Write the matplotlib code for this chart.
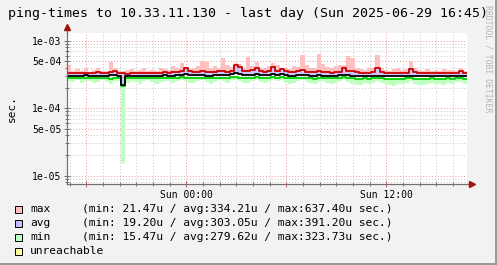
import numpy as np
import matplotlib
matplotlib.use("Agg")
import matplotlib.pyplot as plt
from matplotlib.patches import Rectangle

# hours relative to Sun 00:00, one sample every 15 minutes
t_start = -7.15
step = 0.25

# microseconds
max_peak = [430, 360, 380, 350, 400, 345, 370, 390, 350, 360,
            480, 400, 360, 350, 370, 380, 355, 365, 390, 360,
            370, 355, 400, 380, 365, 420, 390, 470, 410, 380,
            400, 420, 500, 490, 390, 420, 400, 560, 430, 410,
            470, 450, 400, 570, 420, 480, 400, 390, 420, 460,
            430, 400, 390, 380, 420, 410, 610, 430, 400, 390,
            637, 450, 410, 400, 420, 430, 440, 590, 560, 400,
            380, 370, 390, 400, 610, 390, 370, 360, 380, 400,
            370, 380, 500, 400, 370, 360, 380, 360, 370, 350,
            380, 365, 370, 355, 390, 360]
max_line = [335, 330, 332, 328, 335, 330, 333, 338, 330, 332,
            340, 352, 335, 330, 325, 330, 334, 328, 332, 330,
            336, 330, 334, 340, 332, 338, 345, 360, 392, 350,
            340, 345, 350, 342, 338, 348, 355, 352, 345, 360,
            432, 412, 360, 350, 365, 400, 355, 345, 350, 412,
            360, 382, 350, 345, 340, 350, 365, 345, 342, 338,
            352, 345, 340, 335, 338, 345, 392, 360, 350, 340,
            335, 332, 330, 340, 392, 345, 335, 330, 328, 332,
            330, 335, 382, 340, 332, 330, 328, 335, 330, 332,
            328, 333, 330, 335, 350, 332]
avg_line = [305, 302, 304, 300, 306, 303, 301, 305, 302, 304,
            308, 312, 300, 220, 298, 302, 305, 300, 303, 301,
            304, 300, 302, 306, 303, 305, 308, 312, 318, 310,
            306, 310, 312, 305, 304, 308, 314, 312, 306, 318,
            330, 322, 310, 308, 315, 320, 310, 306, 309, 318,
            312, 316, 308, 305, 303, 308, 312, 306, 304, 302,
            308, 305, 303, 300, 302, 306, 310, 308, 304, 300,
            298, 300, 297, 302, 305, 300, 298, 296, 295, 299,
            297, 300, 304, 298, 296, 295, 297, 299, 296, 298,
            295, 298, 296, 300, 302, 297]
min_line = [282, 280, 283, 278, 281, 279, 276, 280, 282, 278,
            275, 280, 282, 215, 278, 282, 279, 276, 280, 283,
            280, 277, 279, 282, 280, 278, 283, 285, 282, 280,
            278, 281, 283, 279, 277, 280, 284, 282, 278, 285,
            288, 284, 280, 278, 282, 286, 281, 279, 283, 287,
            284, 286, 280, 276, 278, 281, 284, 279, 277, 275,
            280, 282, 278, 276, 279, 283, 286, 281, 277, 274,
            272, 276, 273, 278, 282, 277, 274, 272, 271, 275,
            273, 277, 280, 275, 272, 271, 274, 276, 273, 275,
            272, 276, 274, 278, 280, 275]
min_dip = [250, 245, 260, 240, 255, 250, 235, 248, 258, 242,
           230, 250, 255, 15.5, 240, 255, 245, 225, 250, 258,
           248, 232, 245, 256, 250, 238, 255, 260, 250, 240,
           235, 250, 258, 242, 230, 248, 260, 252, 238, 262,
           265, 255, 240, 235, 250, 262, 248, 238, 255, 264,
           256, 260, 240, 228, 236, 250, 258, 242, 234, 225,
           245, 252, 238, 230, 240, 255, 262, 248, 232, 222,
           218, 235, 225, 240, 252, 236, 228, 220, 215, 232,
           226, 240, 250, 232, 222, 218, 230, 238, 225, 232,
           220, 236, 228, 242, 248, 230]

title = "ping-times to 10.33.11.130 - last day (Sun 2025-06-29 16:45)"
legend_names = ["max", "avg", "min", "unreachable"]
legend_stats = ["(min: 21.47u / avg:334.21u / max:637.40u sec.)",
                "(min: 19.20u / avg:303.05u / max:391.20u sec.)",
                "(min: 15.47u / avg:279.62u / max:323.73u sec.)",
                ""]
legend_colors = ["#ffbfbf", "#bfbfff", "#bfffbf", "#ffff99"]
y_ticks = [1e-5, 5e-5, 1e-4, 5e-4, 1e-3]
y_labels = ["1e-05", "5e-05", "1e-04", "5e-04", "1e-03"]
x_major = [-6, 0, 6, 12]
x_labels = ["", "Sun 00:00", "", "Sun 12:00"]

plt.rcParams["font.family"] = ["DejaVu Sans Mono"]

def steps(vals):
    v = np.array(vals, dtype=float) * 1e-6
    return np.append(v, v[-1])

n = len(max_line)
t = t_start + step * np.arange(n + 1)
mx, av, mn = steps(max_line), steps(avg_line), steps(min_line)
pk, dp = steps(max_peak), steps(min_dip)

W, H = 497, 265
fig = plt.figure(figsize=(W / 100, H / 100), dpi=100, facecolor="#f2f2f2")
ax = fig.add_axes([67 / W, 1 - 184 / H, 400 / W, 151 / H])
ax.set_facecolor("white")

ax.fill_between(t, mx, pk, step="post", color="#ffbfbf", lw=0)
ax.fill_between(t, av, mx, step="post", color="#c8c8ff", lw=0)
ax.fill_between(t, dp, mn, step="post", color="#bfffbf", lw=0)
ax.plot(t, mx, drawstyle="steps-post", color="#cc0000", lw=1.3)
ax.plot(t, mn, drawstyle="steps-post", color="#00cc00", lw=1.3)
ax.plot(t, av, drawstyle="steps-post", color="black", lw=1.3)

ax.set_yscale("log")
ax.set_yticks(y_ticks)
ax.set_yticklabels(y_labels)
minor_y = [m * 10.0 ** e for e in (-6, -5, -4, -3) for m in (2, 3, 4, 6, 7, 8, 9)]
ax.set_yticks(minor_y, minor=True)
ax.set_xticks(x_major)
ax.set_xticklabels(x_labels)
ax.set_xticks(np.arange(-7, 17), minor=True)
ax.set_ylim(10 ** (-5 - 8.3 / 67.5), 10 ** (-3 + 7.7 / 67.5))
ax.set_xlim(t_start, t_start + 24)

ax.grid(which="minor", color="#c8c8c8", ls=(0, (1, 2)), lw=0.7)
ax.grid(which="major", color="#e89a9a", ls=(0, (1, 2)), lw=0.7)
ax.set_axisbelow(True)

for s in ("top", "right"):
    ax.spines[s].set_visible(False)
for s in ("left", "bottom"):
    ax.spines[s].set_color("#707070")
    ax.spines[s].set_linewidth(0.9)
ax.tick_params(which="both", direction="inout", length=4, width=0.7,
               colors="#707070", labelcolor="black", labelsize=7, pad=2)
ax.tick_params(which="minor", length=3)
ax.tick_params(axis="x", which="major", colors="#cc6060", labelcolor="black")

# axis arrows
ax.plot([1, 1.012], [0, 0], transform=ax.transAxes, color="#707070", lw=0.9, clip_on=False)
ax.plot([0, 0], [1, 1.04], transform=ax.transAxes, color="#707070", lw=0.9, clip_on=False)
ax.plot(1.012, 0, marker=">", color="#a01010", ms=4, transform=ax.transAxes, clip_on=False)
ax.plot(0, 1.04, marker="^", color="#a01010", ms=4, transform=ax.transAxes, clip_on=False)

fig.text(8 / W, 1 - 13 / H, title, fontsize=9.5, va="center", ha="left")
fig.text(12 / W, 1 - 108 / H, "sec.", fontsize=8, rotation=90, va="center", ha="center")
fig.text(488 / W, 1 - 5 / H, "RRDTOOL / TOBI OETIKER", fontsize=5.9, rotation=-90,
         va="top", ha="center", color="#b4b4b4")

for i, (name, stat, col) in enumerate(zip(legend_names, legend_stats, legend_colors)):
    yc = 209 + i * 14
    fig.patches.append(Rectangle((15 / W, 1 - (yc + 3.5) / H), 7 / W, 7 / H,
                                 transform=fig.transFigure, facecolor=col,
                                 edgecolor="black", lw=0.7))
    fig.text(30 / W, 1 - yc / H, name, fontsize=8.1, va="center", ha="left")
    fig.text(82 / W, 1 - yc / H, stat, fontsize=8.1, va="center", ha="left")

# frame shading on the right and bottom
fig.patches.append(Rectangle((1 - 2 / W, 0), 2 / W, 1, transform=fig.transFigure,
                             facecolor="#9a9a9a", lw=0))
fig.patches.append(Rectangle((0, 0), 1, 2 / H, transform=fig.transFigure,
                             facecolor="#9a9a9a", lw=0))

fig.savefig("out.png", dpi=100, facecolor=fig.get_facecolor())
